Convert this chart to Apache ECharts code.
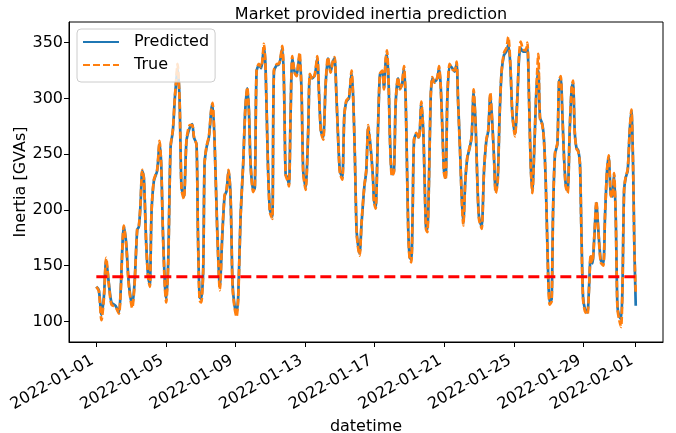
<!DOCTYPE html>
<html>
<head>
<meta charset="utf-8">
<script src="https://cdn.jsdelivr.net/npm/echarts@6/dist/echarts.min.js"></script>
<style>
  html, body { margin: 0; padding: 0; background: #fff; }
  #chart { width: 676px; height: 433px; }
</style>
</head>
<body>
<div id="chart"></div>
<script>
// hours since 2022-01-01 00:00
const hours = [0,3.5,7.1,10.4,13.6,17.3,20.9,26.5,31.1,33.4,37.9,41.2,44.8,49.5,52.7,56.4,58.7,61.0,63.3,65.6,68.8,71.5,73.8,76.1,79.4,83.9,87.2,89.5,91.8,94.5,96.4,99.1,102.4,105.6,108.3,110.2,112.0,114.8,117.5,120.8,
  124.4,129.0,132.3,134.6,138.2,140.1,142.4,144.7,147.4,149.3,152.0,155.3,158.5,160.3,163.1,166.8,170.4,173.7,176.9,179.6,182.4,185.2,187.9,190.7,193.4,195.7,199.0,202.6,205.4,208.2,210.5,212.8,216.4,218.7,221.0,224.3,227.5,231.2,233.5,236.7,239.4,242.7,245.0,249.6,
  251.9,256.5,258.8,261.1,263.4,265.7,268.0,270.3,273.5,276.2,278.5,280.4,283.1,285.4,288.7,292.3,294.6,297.9,301.5,304.8,307.1,309.8,313.0,316.3,319.5,323.2,326.4,328.7,331.0,333.7,336.0,339.3,342.0,344.8,348.5,352.1,354.4,356.7,359.0,361.3,363.2,365.9,369.6,372.4,375.1,378.4,381.6,
  383.0,385.3,388.5,391.2,394.5,396.8,399.1,400.9,403.2,405.0,407.8,410.6,412.9,416.1,418.8,421.6,424.4,426.7,428.5,430.3,432.2,434.5,436.3,438.2,441.4,445.1,448.3,451.0,452.9,454.7,456.6,458.9,461.2,463.5,466.7,470.4,472.7,475.0,477.3,479.6,481.9,484.2,487.4,491.1,494.3,497.0,498.9,501.6,504.0,506.2,509.0,511.8,
  514.1,517.7,520.5,523.2,525.6,527.8,531.5,534.8,538.0,540.7,543.5,546.3,548.6,550.9,553.6,556.4,559.1,562.4,565.6,568.3,571.1,573.9,577.5,580.8,583.1,585.4,588.6,592.3,594.6,596.9,599.2,601.5,604.2,607.0,609.7,612.0,615.2,617.6,619.9,621.7,623.5,625.4,628.1,630.0,632.7,636.0,
  638.3,640.6,642.9,645.2,647.5,650.2,653.0,655.7,657.6,659.9,662.2,664.9,667.2,669.1,671.4,674.1,677.4,679.7,682.0,684.3,687.0,689.8,692.5,695.8,699.4,701.7,704.5,706.8,709.6,711.9,714.2,716.5,718.8,721.1,723.8,725.7,728.0,730.3,733.0,735.8,738.1,740.4,742.2,744.1];

const predicted = [131,128,106,122,155,134,117,114,108,125,185,170,134,114,134,182,185,205,235,229,170,140,133,197,226,235,259,241,182,134,120,152,256,271,300,315,327,300,220,212,
  262,274,277,265,259,182,122,120,146,241,256,265,289,295,262,182,131,176,212,217,235,212,134,114,108,122,194,241,289,309,289,241,217,220,324,330,327,346,327,241,200,194,324,330,
  330,345,315,232,229,223,286,336,324,321,330,339,306,235,220,271,321,318,321,336,306,271,265,312,336,324,333,336,306,262,235,229,283,297,300,323,300,247,182,167,161,188,220,235,274,256,229,
  209,203,271,321,324,309,333,340,315,265,232,235,295,318,309,312,327,300,241,182,158,155,197,262,268,265,295,271,226,185,182,226,300,318,315,318,327,312,274,235,229,300,330,327,324,331,300,256,212,188,226,247,
  253,265,306,277,226,194,185,235,262,271,303,277,247,217,226,286,324,339,342,348,330,286,268,300,336,345,342,342,346,300,241,217,256,306,325,283,277,262,226,182,137,117,120,197,250,259,
  315,318,286,247,223,217,271,309,314,271,256,253,241,182,122,111,108,131,158,152,176,206,182,155,152,194,235,247,214,212,232,194,114,105,102,128,217,229,235,271,289,241,167,114];

const actual = [131,127,101,120,157,133,115,113,107,124,186,169,132,112,133,183,186,206,236,228,169,139,131,198,227,236,262,240,180,131,117,150,257,272,301,317,331,299,218,210,
  263,276,276,266,258,180,119,117,145,242,257,266,290,296,261,180,128,177,213,218,236,211,131,112,104,120,195,242,290,310,288,240,216,221,325,331,328,349,326,240,198,192,325,331,
  331,347,314,231,227,221,287,338,323,320,331,341,305,233,218,272,322,317,322,338,305,270,263,313,337,323,334,337,305,261,233,227,284,298,301,325,299,246,180,165,159,189,221,236,276,255,228,
  207,201,272,322,325,308,335,343,314,264,230,234,296,319,308,313,329,299,240,180,156,153,198,263,269,264,297,270,225,183,180,227,301,319,314,319,329,311,273,233,227,301,331,326,325,333,299,255,211,186,227,248,
  254,266,308,276,225,192,183,236,263,272,305,276,246,215,224,287,325,341,345,355,331,285,266,301,338,351,344,343,350,299,240,215,257,308,340,282,276,261,225,180,135,115,118,198,251,260,
  316,320,285,246,221,215,272,310,316,270,255,252,240,180,120,109,106,130,160,153,177,208,181,153,150,195,236,249,213,211,233,193,112,102,95,126,218,230,236,272,290,240,165,125];

const thresholdValue = 140;

const xTickHours = [0, 96, 192, 288, 384, 480, 576, 672, 744];
const xTickLabels = ['2022-01-01', '2022-01-05', '2022-01-09', '2022-01-13', '2022-01-17',
  '2022-01-21', '2022-01-25', '2022-01-29', '2022-02-01'];
const yTicks = [100, 150, 200, 250, 300, 350];

const font = 'DejaVu Sans';
const chart = echarts.init(document.getElementById('chart'));

chart.setOption({
  animation: false,
  title: {
    text: 'Market provided inertia prediction',
    left: 366,
    top: 2,
    textAlign: 'center',
    textStyle: { fontFamily: font, fontSize: 16, fontWeight: 'normal', color: '#000' }
  },
  legend: {
    data: ['Predicted', 'True'],
    orient: 'vertical',
    left: 77,
    top: 29,
    itemWidth: 36,
    itemHeight: 18,
    itemGap: 7,
    padding: [5, 6, 9, 5],
    backgroundColor: 'rgba(255,255,255,0.8)',
    borderColor: '#ccc',
    borderWidth: 1,
    borderRadius: 4,
    itemStyle: { opacity: 0, color: 'rgba(0,0,0,0)', borderWidth: 0 },
    textStyle: { fontFamily: font, fontSize: 16, color: '#000', padding: [0, 0, 0, 10] }
  },
  grid: {
    left: 69, right: 13, top: 22, bottom: 91,
    outerBoundsMode: 'none',
    show: true, borderColor: '#000', borderWidth: 1
  },
  xAxis: {
    type: 'value',
    min: -37.7,
    max: 781.7,
    name: 'datetime',
    nameLocation: 'middle',
    nameGap: 64,
    nameTextStyle: { fontFamily: font, fontSize: 16, color: '#000' },
    axisLine: { show: true, onZero: false, lineStyle: { color: '#000' } },
    axisTick: { show: true, customValues: xTickHours, length: 5, lineStyle: { color: '#000' } },
    axisLabel: {
      customValues: xTickHours,
      rotate: 30,
      margin: 6,
      align: 'right',
      verticalAlign: 'top',
      padding: [0, 9, 0, 0],
      fontFamily: font, fontSize: 16, color: '#000',
      formatter: (v) => xTickLabels[xTickHours.indexOf(v)]
    },
    splitLine: { show: false }
  },
  yAxis: {
    type: 'value',
    min: 81.5,
    max: 368.5,
    name: 'Inertia [GVAs]',
    nameLocation: 'middle',
    nameGap: 40,
    nameMoveOverlap: false,
    nameTextStyle: { fontFamily: font, fontSize: 16, color: '#000' },
    axisLine: { show: true, onZero: false, lineStyle: { color: '#000' } },
    axisTick: { show: true, customValues: yTicks, length: 5, lineStyle: { color: '#000' } },
    axisLabel: { customValues: yTicks, margin: 6, fontFamily: font, fontSize: 16, color: '#000' },
    splitLine: { show: false }
  },
  series: [
    {
      name: 'Predicted',
      type: 'line',
      symbol: 'none',
      smooth: 0.25,
      data: hours.map((h, i) => [h, predicted[i]]),
      itemStyle: { color: '#1f77b4' },
      lineStyle: { color: '#1f77b4', width: 2.7 }
    },
    {
      name: 'True',
      type: 'line',
      symbol: 'none',
      smooth: 0.25,
      data: hours.map((h, i) => [h, actual[i]]),
      itemStyle: { color: '#ff7f0e' },
      lineStyle: { color: '#ff7f0e', width: 2.7, type: [7, 3] }
    },
    {
      name: 'threshold',
      type: 'line',
      symbol: 'none',
      data: [[hours[0], thresholdValue], [hours[hours.length - 1], thresholdValue]],
      itemStyle: { color: '#ff0000' },
      lineStyle: { color: '#ff0000', width: 3, type: [11, 5] }
    }
  ]
});
</script>
</body>
</html>
